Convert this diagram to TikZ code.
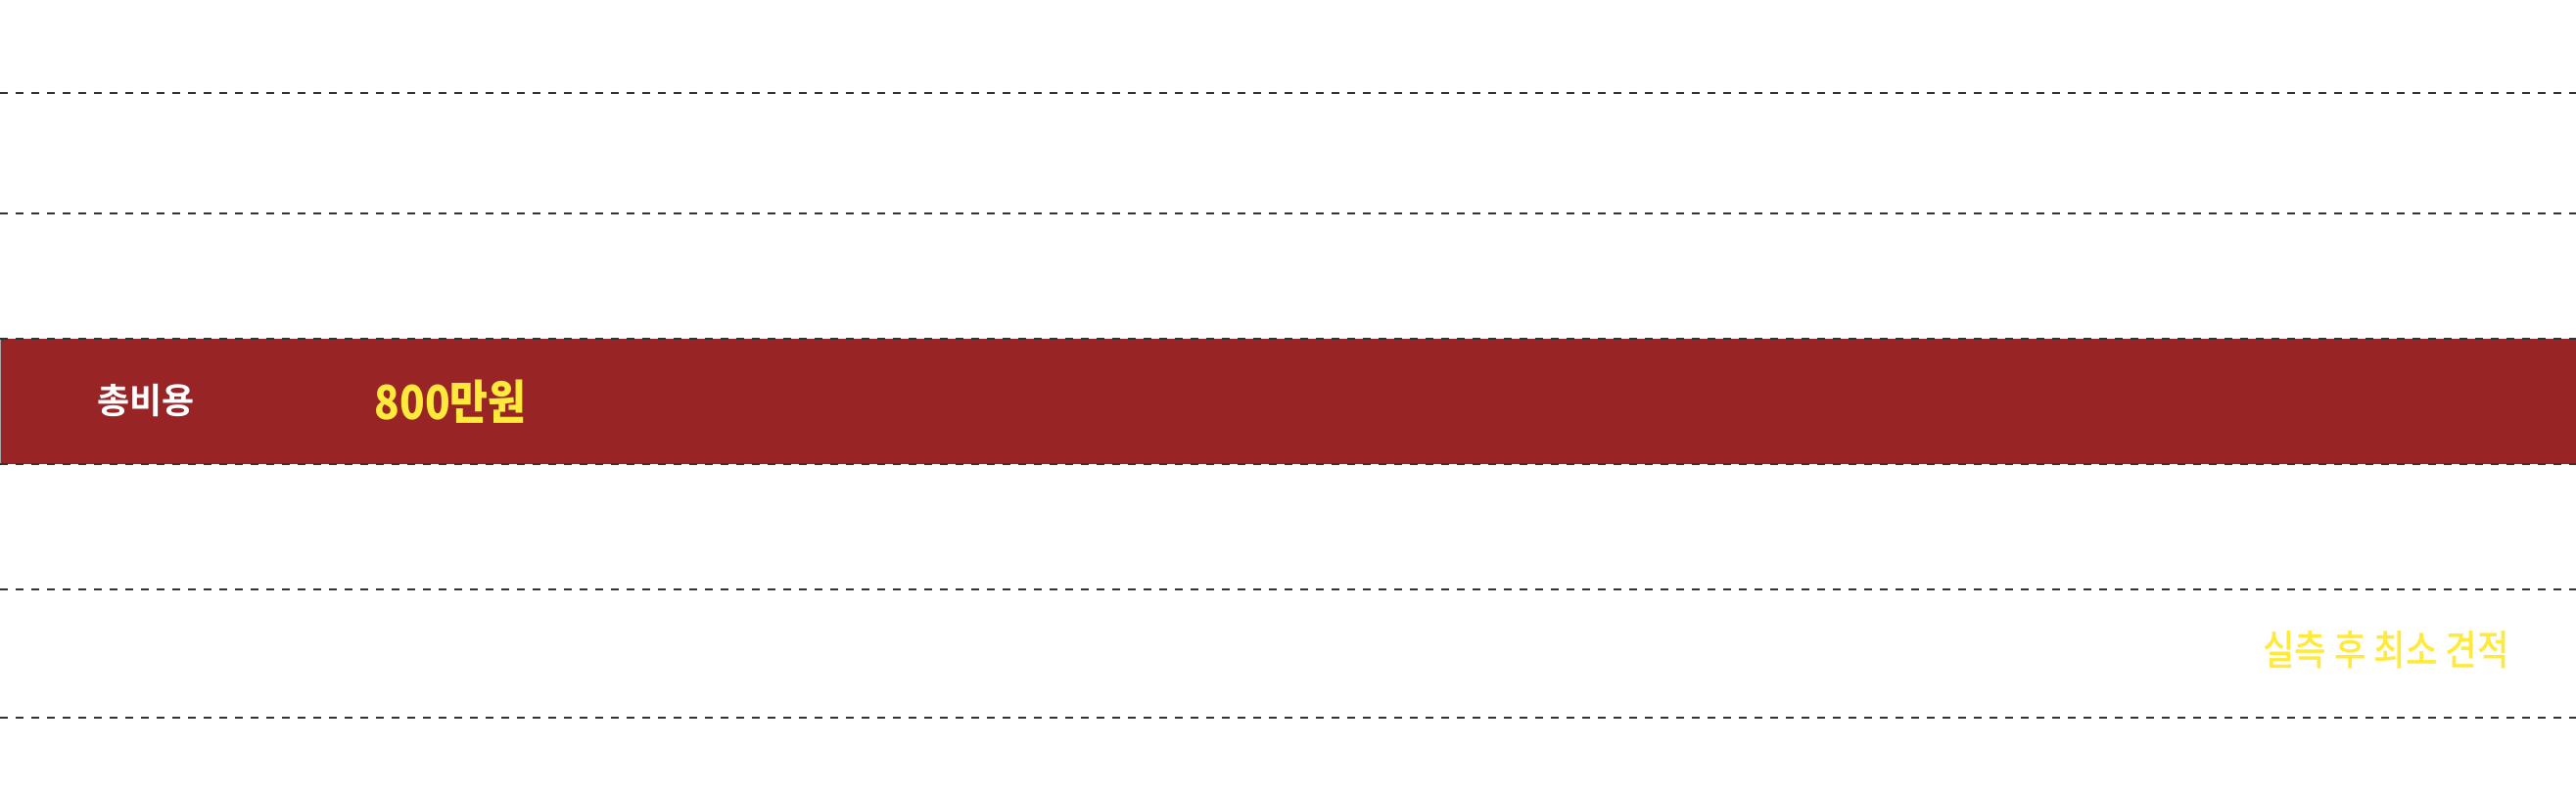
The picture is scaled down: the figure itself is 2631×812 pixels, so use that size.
\documentclass[tikz,border=0pt]{standalone}
\usepackage{fontspec}
\usepackage{tikz}
\newfontfamily\krbold{Noto Sans CJK KR Bold}
\newfontfamily\krprice[FakeStretch=0.88]{Noto Sans CJK KR Black}
\newfontfamily\krmed[FakeStretch=0.84]{Noto Sans CJK KR Medium}
\definecolor{bandred}{RGB}{152,36,38}
\definecolor{pricey}{RGB}{255,233,59}
\definecolor{dashgray}{RGB}{51,51,51}

\begin{document}
\begin{tikzpicture}[line cap=butt,x=1pt,y=-1pt,
    rowline/.style={dashgray,line width=2pt,dash pattern=on 8pt off 8pt},
    labeltxt/.style={inner sep=0pt,text=white,font=\krbold\fontsize{36}{36}\selectfont},
    pricetxt/.style={inner sep=0pt,text=pricey,font=\krprice\fontsize{48}{48}\selectfont},
    notetxt/.style={inner sep=0pt,text=pricey,font=\krmed\fontsize{42}{42}\selectfont}]
      \useasboundingbox (0,0) rectangle (2631,812);
      \fill[bandred] (0,346) rectangle (2631,474);
      \draw[gray!70,line width=1pt] (0.5,346) -- (0.5,474);
      \foreach \y in {95,218,346,474,602,733}
      \draw[rowline] (0,\y) -- (2631,\y);
      \node[labeltxt] (total) at (149,409) {총비용};
      \node[pricetxt] (price) at (460,410) {800만원};
      \node[notetxt] (note) at (2437,664) {실측 후 최소 견적};
    \end{tikzpicture}
\end{document}
